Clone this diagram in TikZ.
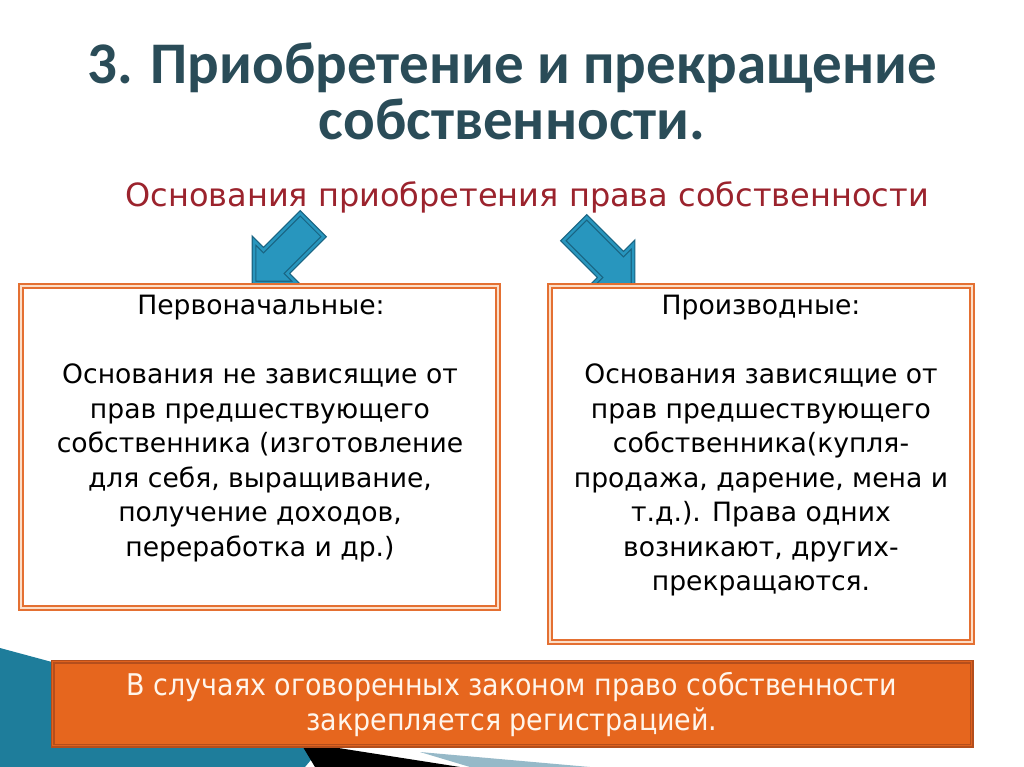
\documentclass[tikz,border=0pt]{standalone}
\usepackage{fontspec}
\setmainfont{DejaVu Sans}
\newfontfamily\titlefont{Carlito}
\newfontfamily\condfont{DejaVu Sans Condensed}
\usetikzlibrary{positioning,calc}
\definecolor{titlegray}{RGB}{42,76,88}
\definecolor{darkred}{RGB}{155,35,45}
\definecolor{boxorange}{RGB}{228,112,50}
\definecolor{peach}{RGB}{252,222,200}
\definecolor{fillorange}{RGB}{230,102,30}
\definecolor{edgeorange}{RGB}{180,78,28}
\definecolor{arrowblue}{RGB}{40,150,190}
\definecolor{arrowedge}{RGB}{25,100,130}
\definecolor{decoteal}{RGB}{30,125,155}
\definecolor{decolight}{RGB}{150,185,200}

\tikzset{
  titletext/.style={font=\titlefont\bfseries\fontsize{59}{56}\selectfont, align=center, text=titlegray},
  subtext/.style={font=\fontsize{32}{36}\selectfont, text=darkred},
  framebox/.style={draw=boxorange, line width=2pt, double=peach, double distance=1.6pt, fill=white},
  headtext/.style={font=\fontsize{26.6}{34.5}\selectfont},
  bodytext/.style={font=\fontsize{26.6}{34.5}\selectfont, align=center},
  notebox/.style={draw=edgeorange, line width=1.6pt, double=fillorange!85!edgeorange, double distance=1.2pt, fill=fillorange},
  notetext/.style={font=\condfont\fontsize{29.9}{35}\selectfont, align=center, text=white!92!orange},
  blockarrow/.style={draw=arrowedge, line width=1.2pt, double=arrowblue, double distance=2.5pt, fill=arrowblue, line join=miter}
}

\begin{document}
\begin{tikzpicture}[x=1pt,y=-1pt]
\useasboundingbox (0,0) rectangle (1024,767);

% corner decoration
\fill[decoteal] (0,648) -- (330,737) -- (305,767) -- (0,767) -- cycle;
\fill[black] (300,742) -- (460,767) -- (315,767) -- cycle;
\fill[decolight] (420,752) -- (590,767) -- (470,767) -- cycle;

% title
\node[titletext] (title) at (512,91) {3. Приобретение и прекращение\\собственности.};
\node[subtext] (sub) at (527,197) {Основания приобретения права собственности};

% arrows, tip at the origin of each scope
\begin{scope}[shift={(254,283)}, rotate=225]
  \draw[blockarrow] (0,0) -- (-30,30) -- (-30,16.5) -- (-82,16.5) -- (-82,-16.5) -- (-30,-16.5) -- (-30,-30) -- cycle;
\end{scope}
\begin{scope}[shift={(633,287)}, rotate=-45]
  \draw[blockarrow] (0,0) -- (-30,30) -- (-30,16.5) -- (-82,16.5) -- (-82,-16.5) -- (-30,-16.5) -- (-30,-30) -- cycle;
\end{scope}

% boxes
\node[framebox, minimum width=477pt, minimum height=322pt, anchor=north west] (boxL) at (20,285) {};
\node[framebox, minimum width=422pt, minimum height=356pt, anchor=north west] (boxR) at (549,285) {};

\node[headtext] (headL) at (261,308) {Первоначальные:};
\node[headtext] (headR) at (761,308) {Производные:};

\node[bodytext] (bodyL) at (260,463) {Основания не зависящие от\\прав предшествующего\\собственника (изготовление\\для себя, выращивание,\\получение доходов,\\переработка и др.)};
\node[bodytext] (bodyR) at (761,480) {Основания зависящие от\\прав предшествующего\\собственника(купля-\\продажа, дарение, мена и\\т.д.). Права одних\\возникают, других-\\прекращаются.};

% note
\node[notebox, minimum width=919pt, minimum height=84pt, anchor=north west] (note) at (52,661) {};
\node[notetext] (notetxt) at (512,704) {В случаях оговоренных законом право собственности\\закрепляется регистрацией.};
\end{tikzpicture}
\end{document}
